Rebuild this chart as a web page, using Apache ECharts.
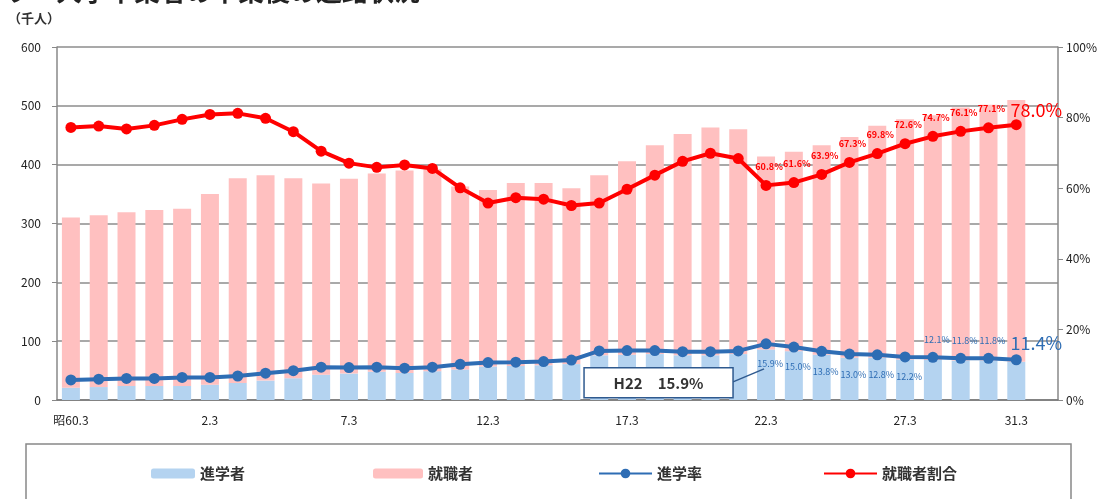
<!DOCTYPE html>
<html>
<head>
<meta charset="utf-8">
<script src="https://cdn.jsdelivr.net/npm/echarts@6/dist/echarts.min.js"></script>
<style>
html, body { margin: 0; padding: 0; background: #fff; }
#main { width: 1113px; height: 499px; }
</style>
</head>
<body>
<div id="main"></div>
<script>
// 卒業年（3月）
var years = ['昭60.3','61.3','62.3','63.3','1.3','2.3','3.3','4.3','5.3','6.3',
             '7.3','8.3','9.3','10.3','11.3','12.3','13.3','14.3','15.3','16.3',
             '17.3','18.3','19.3','20.3','21.3','22.3','23.3','24.3','25.3','26.3',
             '27.3','28.3','29.3','30.3','31.3',''];

// 千人
var shingakusha = [21, 22, 24, 24, 24, 26, 29, 33, 37, 43,
                   45, 48, 46, 49, 52, 57, 58, 59, 61, 76,
                   77, 78, 76, 76, 78, 86, 83, 77, 72, 72,
                   69, 68, 67, 67, 65];
var shushokusha = [289, 292, 295, 299, 301, 324, 348, 349, 340, 325,
                   331, 337, 344, 343, 311, 300, 311, 310, 299, 306,
                   329, 355, 376, 387, 382, 328, 339, 356, 375, 394,
                   408, 416, 430, 435, 445];

// %
var shingakuritsu = [5.7, 5.9, 6.1, 6.1, 6.4, 6.4, 6.8, 7.6, 8.3, 9.3,
                     9.2, 9.3, 9.0, 9.3, 10.1, 10.6, 10.7, 10.9, 11.3, 13.9,
                     14.0, 14.0, 13.7, 13.7, 13.9, 15.9, 15.0, 13.8, 13.0, 12.8,
                     12.2, 12.1, 11.8, 11.8, 11.4];
var shushokuWariai = [77.2, 77.6, 76.8, 77.8, 79.5, 80.9, 81.2, 79.8, 76.0, 70.5,
                      67.1, 65.9, 66.6, 65.6, 60.1, 55.8, 57.3, 56.9, 55.1, 55.8,
                      59.7, 63.7, 67.6, 69.9, 68.4, 60.8, 61.6, 63.9, 67.3, 69.8,
                      72.6, 74.7, 76.1, 77.1, 78.0];

var FONT = '"Noto Sans CJK JP", "Noto Sans", sans-serif';
var BLUE = '#2E6DB4';
var RED = '#FF0000';
var labelStart = 25;
var lastIdx = shingakuritsu.length - 1;

function pct(p) { return p.value.toFixed(1) + '%'; }

function blueLabel(i) {
	if (i < labelStart) return { show: false };
	if (i === lastIdx) return { show: true, position: 'top', distance: 2, offset: [20, 0], fontSize: 18 };
	if (i <= 30) return { show: true, position: 'bottom', distance: 10, offset: [4, 0], fontSize: 9 };
	return { show: true, position: 'top', distance: 8, offset: [4, 0], fontSize: 9 };
}
function redLabel(i) {
	if (i < labelStart) return { show: false };
	if (i === lastIdx) return { show: true, position: 'top', distance: 2, offset: [20, 2], fontSize: 18 };
	return { show: true, position: 'top', distance: 9, offset: [3, 0], fontSize: 9, fontWeight: 'bold' };
}

var legendText = { fontSize: 15, fontWeight: 'bold', color: '#333' };

var chart = echarts.init(document.getElementById('main'));
chart.setOption({
	animation: false,
	textStyle: { fontFamily: FONT },
	grid: { left: 57, right: 55, top: 47, bottom: 99 },
	legend: [
		{ data: ['進学者'], left: 146, top: 461, itemWidth: 44, itemHeight: 10, textStyle: legendText },
		{ data: ['就職者'], left: 368, top: 461, itemWidth: 50, itemHeight: 10, textStyle: legendText },
		{ data: ['進学率'], left: 593, top: 461, itemWidth: 53, itemHeight: 12, textStyle: legendText },
		{ data: ['就職者割合'], left: 818, top: 461, itemWidth: 53, itemHeight: 12, textStyle: legendText }
	],
	xAxis: [{
		type: 'category',
		data: years,
		axisLine: { lineStyle: { color: '#777', width: 1.5 } },
		axisTick: { interval: 0, length: 5, lineStyle: { color: '#777' } },
		axisLabel: {
			interval: function (idx) { return idx % 5 === 0 || idx === lastIdx; },
			fontSize: 12, color: '#222', margin: 14
		}
	}],
	yAxis: [
		{
			type: 'value', min: 0, max: 600, interval: 100,
			axisLine: { show: true, lineStyle: { color: '#888', width: 1.5 } },
			axisTick: { show: true, length: 5, lineStyle: { color: '#888' } },
			axisLabel: { fontSize: 12, color: '#222', margin: 16 },
			splitLine: { lineStyle: { color: '#8c8c8c', width: 1.5 } }
		},
		{
			type: 'value', min: 0, max: 100, interval: 20,
			axisLine: { show: true, lineStyle: { color: '#888', width: 1.5 } },
			axisTick: { show: true, length: 5, lineStyle: { color: '#888' } },
			axisLabel: { fontSize: 12, color: '#222', margin: 8, formatter: '{value}%' },
			splitLine: { show: false }
		}
	],
	series: [
		{
			name: '進学者', type: 'bar', stack: 'total', barWidth: 18,
			itemStyle: { color: '#B4D3F0' },
			data: shingakusha
		},
		{
			name: '就職者', type: 'bar', stack: 'total', barWidth: 18,
			itemStyle: { color: '#FFC0C0' },
			data: shushokusha
		},
		{
			name: '進学率', type: 'line', yAxisIndex: 1,
			symbol: 'circle', symbolSize: 11,
			lineStyle: { color: BLUE, width: 4 },
			itemStyle: { color: BLUE },
			label: { color: BLUE, formatter: pct, fontFamily: FONT },
			data: shingakuritsu.map(function (v, i) { return { value: v, label: blueLabel(i) }; })
		},
		{
			name: '就職者割合', type: 'line', yAxisIndex: 1,
			symbol: 'circle', symbolSize: 11,
			lineStyle: { color: RED, width: 4 },
			itemStyle: { color: RED },
			label: { color: RED, formatter: pct, fontFamily: FONT },
			data: shushokuWariai.map(function (v, i) { return { value: v, label: redLabel(i) }; })
		}
	]
});

// 注記（H22の進学率）と凡例枠
var pt = chart.convertToPixel({ seriesIndex: 2 }, [labelStart, shingakuritsu[labelStart]]);
chart.setOption({
	graphic: [
		{ type: 'text', left: 4, top: -22, silent: true,
		  style: { text: 'ウ　大学卒業者の卒業後の進路状況', font: 'bold 26px ' + FONT, fill: '#222' } },
		{ type: 'text', left: 8, top: 12, silent: true,
		  style: { text: '（千人）', font: 'bold 13px ' + FONT, fill: '#333' } },
		{ type: 'rect', silent: true, z: 0,
		  shape: { x: 26, y: 444, width: 1045, height: 80 },
		  style: { fill: 'none', stroke: '#888', lineWidth: 1.5 } },
		{ type: 'line', silent: true, z: 10,
		  shape: { x1: pt[0] - 33, y1: pt[1] + 38, x2: pt[0] - 2, y2: pt[1] + 25 },
		  style: { stroke: '#2F5A8F', lineWidth: 1.5 } },
		{ type: 'rect', silent: true, z: 10,
		  shape: { x: pt[0] - 182, y: pt[1] + 24, width: 149, height: 30 },
		  style: { fill: '#fff', stroke: '#2F5A8F', lineWidth: 1.5 } },
		{ type: 'text', silent: true, z: 11,
		  x: pt[0] - 107.5, y: pt[1] + 39,
		  style: { text: 'H22　15.9%', font: 'bold 15px ' + FONT, fill: '#333',
		           textAlign: 'center', textVerticalAlign: 'middle', align: 'center', verticalAlign: 'middle' } }
	]
});
</script>
</body>
</html>
